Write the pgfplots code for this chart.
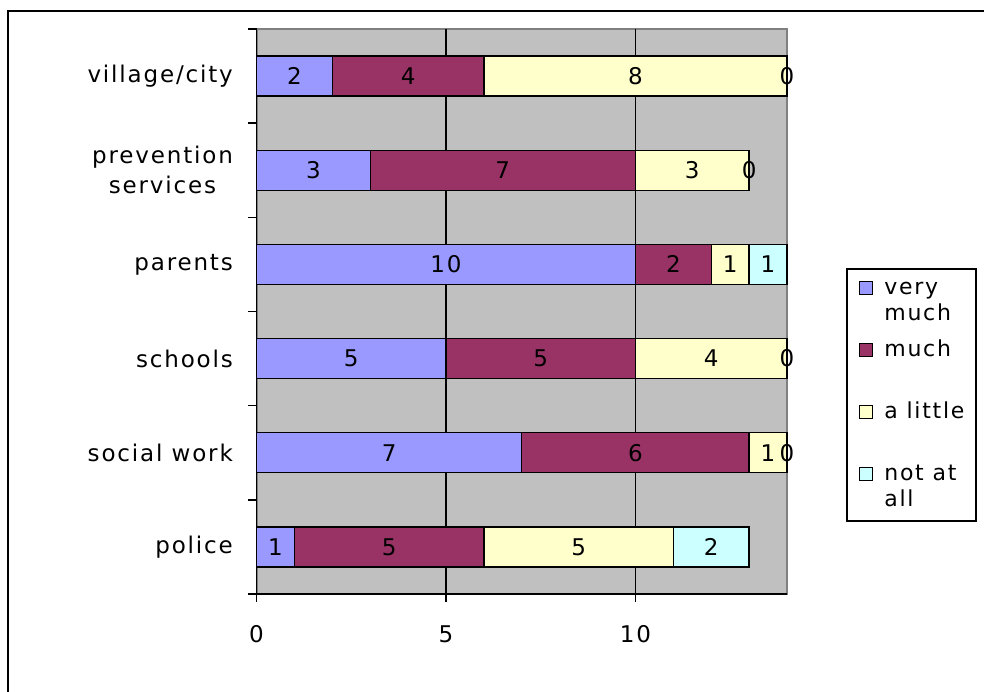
\documentclass[border=0pt]{standalone}
\usepackage{fontspec}
\setmainfont{DejaVu Sans}[LetterSpace=8]
\usepackage{pgfplots}
\pgfplotsset{compat=1.18}
\definecolor{vmuch}{HTML}{9999FF}
\definecolor{much}{HTML}{993366}
\definecolor{alittle}{HTML}{FFFFCC}
\definecolor{notatall}{HTML}{CCFFFF}
\definecolor{plotbg}{HTML}{C0C0C0}
\definecolor{plotborder}{HTML}{808080}
\pgfplotsset{
  mylegend/.style={legend image code/.code={
    \draw[##1, line width=0.6pt] (1pt,3.6pt) rectangle (7.5pt,10.1pt);
    \path (13pt,0pt);
  }}
}
\begin{document}
\fontsize{11.5}{13}\selectfont
\begin{tikzpicture}[font=\fontsize{11.5}{13}\selectfont]
\useasboundingbox (0,0) rectangle (492pt,345.5pt);
\draw[line width=1pt] (4.15pt,-20pt) -- (4.15pt,340pt) -- (520pt,340pt);
\begin{axis}[
  at={(128.25pt,48.5pt)}, anchor=south west,
  scale only axis,
  x=18.9464pt, y=47.0833pt,
  xmin=0, xmax=14.002, ymin=0.5, ymax=6.5,
  clip=false,
  xbar stacked, bar width=20pt,
  every axis plot post/.append style={mylegend},
  axis background/.style={fill=plotbg, draw=plotborder, line width=1pt},
  axis x line*=bottom, axis y line*=left,
  axis line style={black, line width=0.75pt},
  xtick={0,5,10},
  xmajorgrids, major grid style={black, line width=0.75pt},
  ytick={0.5,1.5,...,6.5}, yticklabels={},
  tick align=outside, major tick length=4pt,
  tick style={black, line width=0.75pt},
  extra y ticks={1,2,3,4,5,6},
  extra y tick labels={police,social work,schools,parents,{prevention\\[2pt]services},village/city},
  extra y tick style={grid=none, major tick length=0pt, yticklabel style={align=center}},
  yticklabel style={xshift=-7.8pt},
  xticklabel style={yshift=-7.8pt},
  /pgf/number format/assume math mode=true,
  point meta=explicit symbolic,
  nodes near coords={\pgfplotspointmeta},
  every node near coord/.append style={anchor=center, black, inner sep=0pt},
  legend cell align=left,
  legend style={at={(1.1112,0.577)}, anchor=north west, draw=black, line width=1pt, fill=white,
    inner xsep=6pt, inner ysep=3.5pt, row sep=5pt,
    font=\fontsize{11}{13}\selectfont,
    nodes={align=left, inner xsep=0pt, inner ysep=0pt, text depth=}},
]
\addplot[fill=vmuch, draw=black, line width=0.65pt] coordinates {(1,1)[1] (7,2)[7] (5,3)[5] (10,4)[10] (3,5)[3] (2,6)[2]};
\addlegendentry{very\strut\\much\strut}
\addplot[fill=much, draw=black, line width=0.65pt] coordinates {(5,1)[5] (6,2)[6] (5,3)[5] (2,4)[2] (7,5)[7] (4,6)[4]};
\addlegendentry{much\strut\\\strut}
\addplot[fill=alittle, draw=black, line width=0.65pt] coordinates {(5,1)[5] (1,2)[1] (4,3)[4] (1,4)[1] (3,5)[3] (8,6)[8]};
\addlegendentry{a little\strut\\\strut}
\addplot[fill=notatall, draw=black, line width=0.65pt] coordinates {(2,1)[2] (0.001,2)[0] (0.001,3)[0] (1,4)[1] (0.001,5)[0] (0.001,6)[0]};
\addlegendentry{not at\strut\\all\strut}
\end{axis}
\end{tikzpicture}
\end{document}
